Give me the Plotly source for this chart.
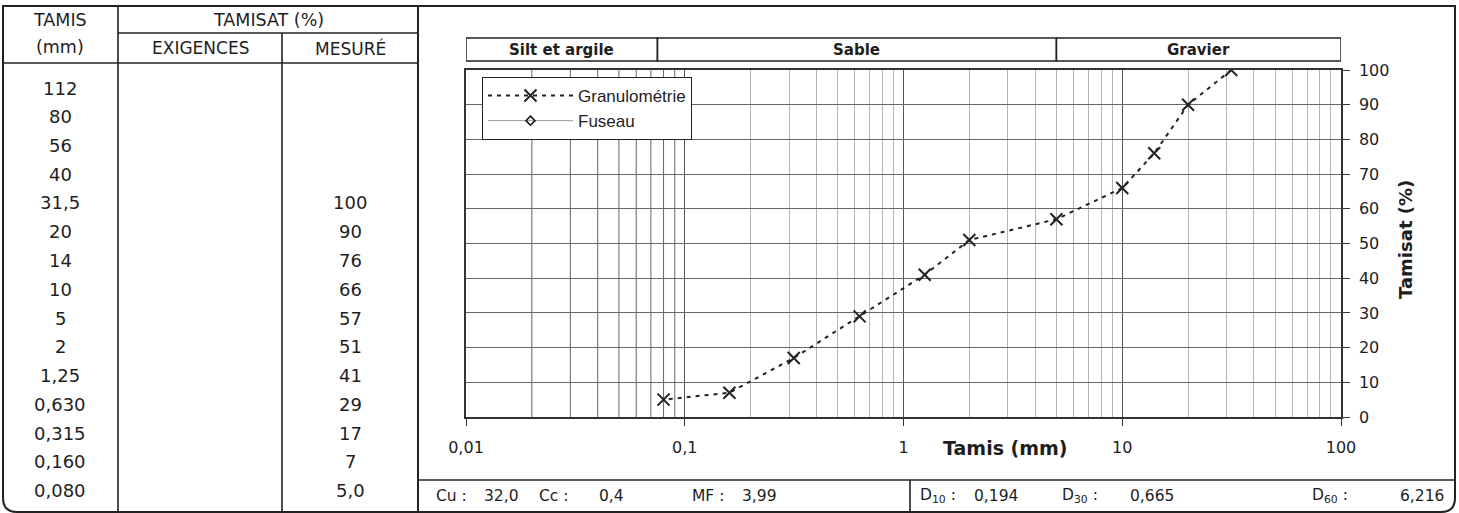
import math
import plotly.graph_objects as go

# ---------------- data ----------------
tamis_mm = [112, 80, 56, 40, 31.5, 20, 14, 10, 5, 2, 1.25, 0.63, 0.315, 0.16, 0.08]
tamis_labels = ["112", "80", "56", "40", "31,5", "20", "14", "10", "5", "2",
                "1,25", "0,630", "0,315", "0,160", "0,080"]
exigences = [None, None, None, None, None, None, None, None, None, None,
             None, None, None, None, None]
mesure = [None, None, None, None, 100, 90, 76, 66, 57, 51, 41, 29, 17, 7, 5.0]
mesure_labels = ["", "", "", "", "100", "90", "76", "66", "57", "51",
                 "41", "29", "17", "7", "5,0"]

band_names = ["Silt et argile", "Sable", "Gravier"]
band_limits = [0.01, 0.075, 5, 100]

x_tickvals = [0.01, 0.1, 1, 10, 100]
x_ticktext = ["0,01", "0,1", "1", "10", "100"]

stats_left = [("Cu :", "32,0"), ("Cc :", "0,4"), ("MF :", "3,99")]
stats_right = [("D<sub>10</sub> :", "0,194"), ("D<sub>30</sub> :", "0,665"),
               ("D<sub>60</sub> :", "6,216")]

# ---------------- geometry helpers (pixels -> paper) ----------------
WIDTH, HEIGHT = 1459, 513
L, R, T, B = 466, 1341, 70, 417
PW, PH = R - L, B - T


def px(x):
    return (x - L) / PW


def py(y):
    return (B - y) / PH


FONT = "DejaVu Sans"
INK = "#1e1e1e"

fig = go.Figure()

fig.add_trace(go.Scatter(
    x=tamis_mm, y=mesure, name="Granulométrie", mode="lines+markers",
    line=dict(color="#222", width=2, dash="4px,5px"),
    marker=dict(symbol="x-thin-open", size=12, line=dict(color="#111", width=2)),
))
fig.add_trace(go.Scatter(
    x=tamis_mm, y=exigences, name="Fuseau", mode="lines+markers",
    line=dict(color="#999", width=1),
    marker=dict(symbol="diamond-open", size=7, color="#111",
                line=dict(color="#111", width=1.5)),
))

shapes = []
annotations = []


def hline(x0, x1, y, w=1.6, c="#222"):
    shapes.append(dict(type="line", xref="paper", yref="paper",
                       x0=px(x0), x1=px(x1), y0=py(y), y1=py(y),
                       line=dict(color=c, width=w)))


def vline(x, y0, y1, w=1.6, c="#222"):
    shapes.append(dict(type="line", xref="paper", yref="paper",
                       x0=px(x), x1=px(x), y0=py(y0), y1=py(y1),
                       line=dict(color=c, width=w)))


def text(x, y, s, size=16, bold=False, anchor="center", family=FONT, angle=0):
    annotations.append(dict(xref="paper", yref="paper", x=px(x), y=py(y),
                            text=("<b>%s</b>" % s) if bold else s,
                            showarrow=False, xanchor=anchor, yanchor="middle",
                            textangle=angle,
                            font=dict(family=family, size=size, color=INK)))


# outer frame with rounded bottom corners
fx0, fx1, fy0, fy1, rad = 3, 1455, 6, 512, 14
path = ("M %f,%f L %f,%f L %f,%f Q %f,%f %f,%f L %f,%f Q %f,%f %f,%f Z" % (
    px(fx0), py(fy0), px(fx1), py(fy0), px(fx1), py(fy1 - rad),
    px(fx1), py(fy1), px(fx1 - rad), py(fy1),
    px(fx0 + rad), py(fy1), px(fx0), py(fy1), px(fx0), py(fy1 - rad)))
shapes.append(dict(type="path", xref="paper", yref="paper", path=path,
                   line=dict(color="#222", width=2)))

# table grid
vline(418, fy0, fy1, w=2)
vline(118, fy0, fy1)
vline(282, 33, fy1)
hline(118, 418, 33)
hline(fx0, 418, 63)
# bottom stats strip
hline(418, fx1, 480)
vline(910, 480, fy1)

# table headers
text(60, 20, "TAMIS", 17.5)
text(60, 47, "(mm)", 17.5)
text(268, 20, "TAMISAT (%)", 17.5)
text(200, 48, "EXIGENCES", 17)
text(350, 48, "MESURÉ", 17)

# table rows
row0, step = 88, 28.75
for i, lab in enumerate(tamis_labels):
    yy = row0 + i * step
    text(60, yy, lab, 18)
    if mesure_labels[i]:
        text(350, yy, mesure_labels[i], 18)

# stats
for (lab, val), (xl, xv) in zip(stats_left, [(434, 482), (537, 597), (690, 740)]):
    text(xl, 496, lab, 15.5, anchor="left")
    text(xv, 496, val, 15.5, anchor="left")
for (lab, val), (xl, xv) in zip(stats_right, [(918, 972), (1060, 1128), (1310, 1398)]):
    text(xl, 496, lab, 15.5, anchor="left")
    text(xv, 496, val, 15.5, anchor="left")

# band boxes above plot
for i, name in enumerate(band_names):
    shapes.append(dict(type="rect", xref="x", yref="paper",
                       x0=band_limits[i], x1=band_limits[i + 1],
                       y0=py(61), y1=py(38),
                       line=dict(color="#222", width=1.5)))
    gm = math.sqrt(band_limits[i] * band_limits[i + 1])
    annotations.append(dict(xref="x", yref="paper", x=math.log10(gm),
                            y=py(50), text="<b>%s</b>" % name, showarrow=False,
                            xanchor="center", yanchor="middle",
                            font=dict(family=FONT, size=15, color=INK)))

# darker minor grid in the first decade
for m in range(2, 10):
    shapes.append(dict(type="line", xref="x", yref="paper", x0=m * 0.01, x1=m * 0.01,
                       y0=0, y1=1, layer="below",
                       line=dict(color="#666", width=1)))

# axis titles
text(1005, 448, "Tamis (mm)", 19, bold=True)
text(1405, 240, "Tamisat (%)", 18, bold=True, angle=-90)

minor_vals = [m * 10 ** e for e in (-1, 0, 1) for m in range(2, 10)]

fig.update_layout(
    width=WIDTH, height=HEIGHT,
    margin=dict(l=L, r=WIDTH - R, t=T, b=HEIGHT - B, pad=0),
    paper_bgcolor="white", plot_bgcolor="rgba(0,0,0,0)",
    font=dict(family=FONT, size=16, color=INK),
    shapes=shapes, annotations=annotations,
    showlegend=True,
    legend=dict(x=px(482), y=py(77), xanchor="left", yanchor="top",
                bgcolor="white", bordercolor="#222", borderwidth=1,
                font=dict(family="Liberation Sans", size=17, color=INK),
                itemwidth=85, tracegroupgap=0),
    xaxis=dict(type="log", range=[-2, 2], tickmode="array",
               tickvals=x_tickvals, ticktext=x_ticktext,
               showgrid=True, gridcolor="#555", gridwidth=1,
               ticks="outside", ticklen=7, tickcolor="#333",
               ticklabelstandoff=8,
               showline=True, linecolor="#333", linewidth=1.5, mirror=True,
               tickfont=dict(family=FONT, size=16, color=INK),
               minor=dict(tickmode="array", tickvals=minor_vals, showgrid=True,
                          gridcolor="#b5b5b5", gridwidth=1, ticks=""),
               zeroline=False),
    yaxis=dict(range=[0, 100], side="right", tickmode="linear", tick0=0, dtick=10,
               showgrid=True, gridcolor="#666", gridwidth=1,
               ticks="outside", ticklen=7, tickcolor="#333",
               ticklabelstandoff=6,
               showline=True, linecolor="#333", linewidth=1.5, mirror=True,
               tickfont=dict(family=FONT, size=16, color=INK),
               zeroline=False),
)

fig.write_html("out.html", config={"displayModeBar": False},
               post_script="document.body.style.margin='0';document.body.style.overflow='hidden';")
